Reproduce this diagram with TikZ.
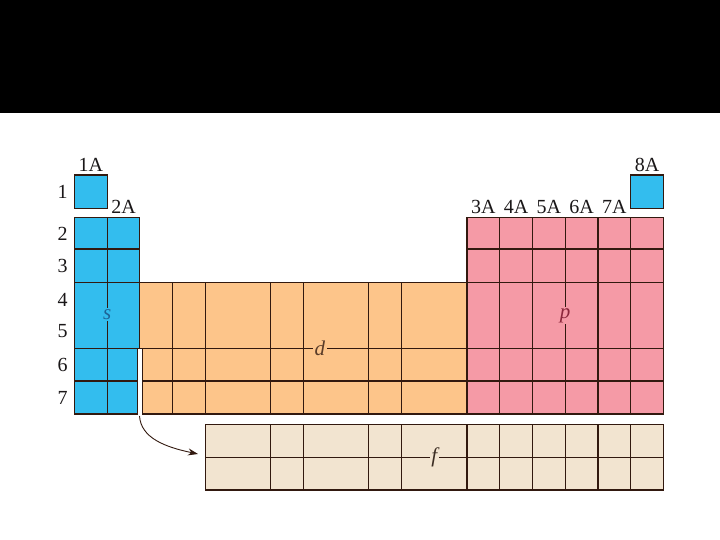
\documentclass[tikz,border=0pt]{standalone}
\usepackage{fontspec}
\setmainfont{Liberation Serif}
\usetikzlibrary{arrows.meta}
\definecolor{sblue}{HTML}{33BDEE}
\definecolor{dorange}{HTML}{FDC58A}
\definecolor{ppink}{HTML}{F59AA6}
\definecolor{fbeige}{HTML}{F2E4D0}
\definecolor{gridc}{HTML}{32190F}
\definecolor{txt}{HTML}{1A1718}
\definecolor{stxt}{HTML}{1E6496}
\definecolor{dtxt}{HTML}{5A3C28}
\definecolor{ptxt}{HTML}{8C283C}
\definecolor{ftxt}{HTML}{3C2D23}
\tikzset{
  cell/.style={draw=gridc, line width=1.2bp},
  gline/.style={draw=gridc, line width=1.2bp},
  lbl/.style={text=txt, font=\fontsize{20bp}{24bp}\selectfont, inner sep=0pt},
  blk/.style={font=\fontsize{21bp}{24bp}\selectfont\itshape, inner sep=1.5bp},
  conn/.style={draw=gridc, line width=0.9bp, -{Stealth[length=10bp,width=7bp]}}
}
\begin{document}
\begin{tikzpicture}[x=1bp,y=-1bp]
\useasboundingbox (0,0) rectangle (720,540);
% top band
\fill[black] (0,0) rectangle (720,113);

% ---- s block ----
\path[cell, fill=sblue] (74.4,175) rectangle (107.12,208.3);
\path[cell, fill=sblue] (74.4,217.3) rectangle (139.84,348.3);
\path[cell, fill=sblue] (74.4,348.3) rectangle (137.3,414);
\draw[gline] (74.4,249) -- (139.84,249);
\draw[gline] (74.4,282.3) -- (139.84,282.3);
\draw[gline] (74.4,381) -- (137.3,381);
\draw[gline] (107.12,217.3) -- (107.12,414);

% ---- d block ----
\path[cell, fill=dorange] (139.84,282.3) rectangle (467.04,348.3);
\path[cell, fill=dorange] (142.3,348.3) rectangle (467.04,414);
\draw[gline] (142.3,381) -- (467.04,381);
\foreach \x in {172.56,205.28,270.72,303.44,368.88,401.6}
  \draw[gline] (\x,282.3) -- (\x,414);

% ---- p block ----
\path[cell, fill=ppink] (467.04,217.3) rectangle (663.36,414);
\path[cell, fill=sblue] (630.64,175) rectangle (663.36,208.3);
\foreach \y in {249,282.3,348.3,381}
  \draw[gline] (467.04,\y) -- (663.36,\y);
\foreach \x in {499.76,532.48,565.2,597.92,630.64}
  \draw[gline] (\x,217.3) -- (\x,414);

% ---- f block ----
\path[cell, fill=fbeige] (205.28,424.3) rectangle (663.36,490);
\draw[gline] (205.28,457.3) -- (663.36,457.3);
\foreach \x in {270.72,303.44,368.88,401.6,467.04,499.76,532.48,565.2,597.92,630.64}
  \draw[gline] (\x,424.3) -- (\x,490);

% ---- block labels ----
\node[blk, fill=sblue, text=stxt] (ls) at (107.12,314.5) {s};
\node[blk, fill=dorange, text=dtxt] (ld) at (319.8,348.3) {d};
\node[blk, fill=ppink, text=ptxt] (lp) at (565.2,315.5) {p};
\node[blk, fill=fbeige, text=ftxt] (lf) at (434.32,457.3) {f};

% ---- group labels ----
\node[lbl] (g1) at (90.8,165) {1A};
\node[lbl] (g2) at (123.5,206.5) {2A};
\node[lbl] (g3) at (483.4,206.5) {3A};
\node[lbl] (g4) at (516.1,206.5) {4A};
\node[lbl] (g5) at (548.8,206.5) {5A};
\node[lbl] (g6) at (581.6,206.5) {6A};
\node[lbl] (g7) at (614.3,206.5) {7A};
\node[lbl] (g8) at (647,165) {8A};

% ---- period labels ----
\node[lbl] (r1) at (62.7,192) {1};
\node[lbl] (r2) at (62.7,233.5) {2};
\node[lbl] (r3) at (62.7,266) {3};
\node[lbl] (r4) at (62.7,299.5) {4};
\node[lbl] (r5) at (62.7,331.5) {5};
\node[lbl] (r6) at (62.7,364.8) {6};
\node[lbl] (r7) at (62.7,397.5) {7};

% ---- arrow ----
\coordinate (a0) at (139.5,416);
\coordinate (a1) at (198,454);
\draw[conn] (a0) .. controls (141,438) and (165,447) .. (a1);
\end{tikzpicture}
\end{document}
